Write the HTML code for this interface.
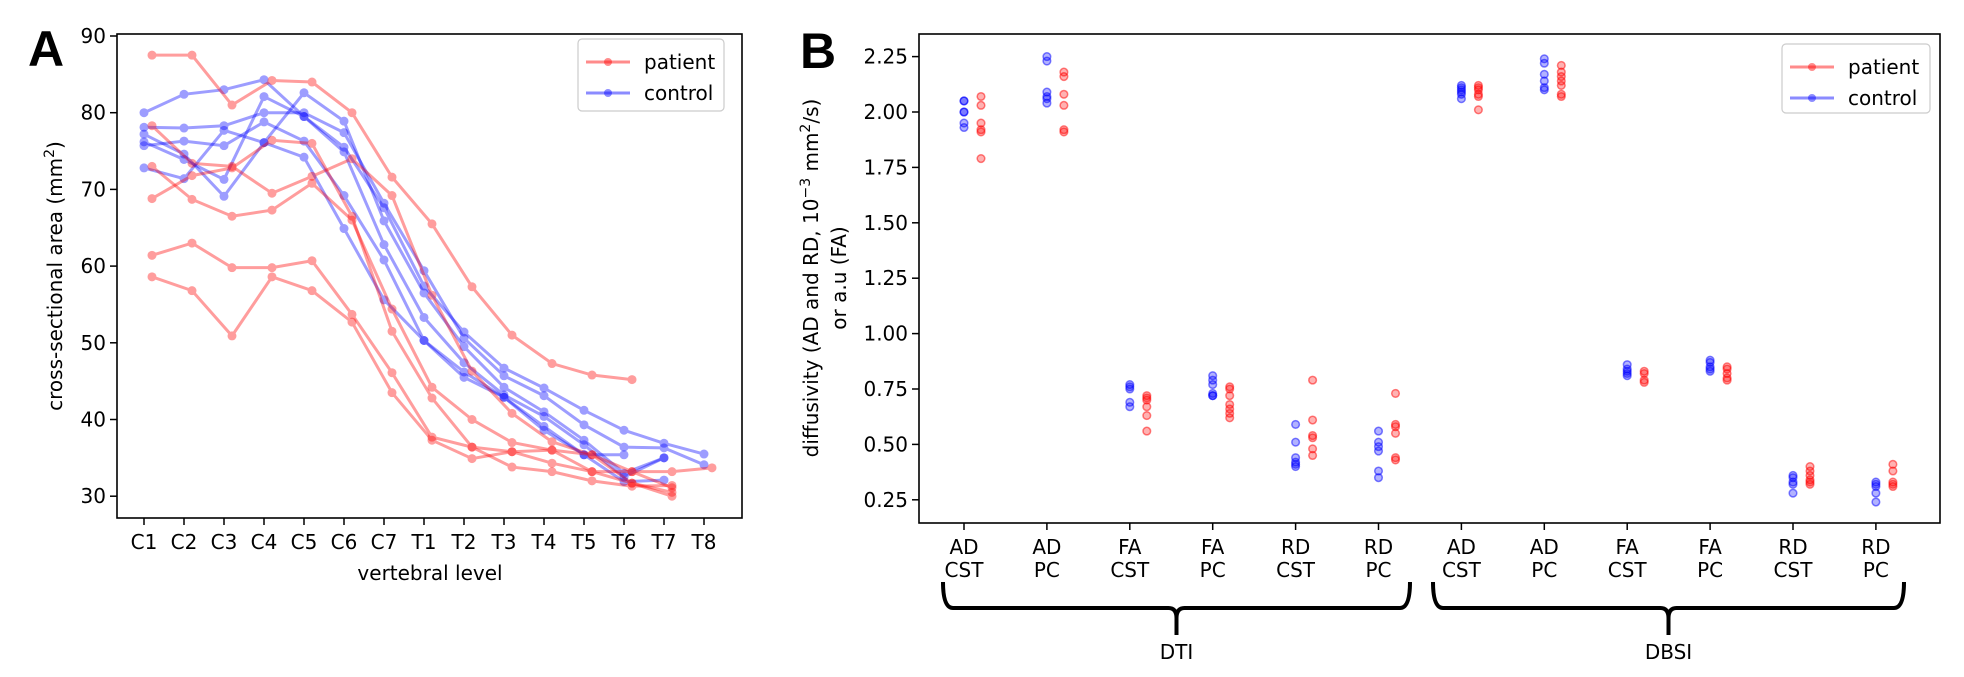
<!DOCTYPE html>
<html><head><meta charset="utf-8"><style>
html,body{margin:0;padding:0;background:#fff;}
svg{display:block;font-family:"DejaVu Sans","Liberation Sans",sans-serif;}
</style></head><body>
<svg id="fig" width="1964" height="677" viewBox="0 0 1964 677" xmlns="http://www.w3.org/2000/svg">
<text x="28" y="66" font-size="50" font-weight="bold" font-family="Liberation Sans, sans-serif">A</text>
<text x="800" y="68" font-size="50" font-weight="bold" font-family="Liberation Sans, sans-serif">B</text>
<g id="pa"></g>
<g id="pb"></g>
</svg>
<script>
// ---------- Panel A data ----------
const levels = ["C1","C2","C3","C4","C5","C6","C7","T1","T2","T3","T4","T5","T6","T7","T8"];
const yTicksA = [30,40,50,60,70,80,90];
const patient1 = [87.5,87.5,81,84.2,84,80,71.6,65.5,57.3,51,47.3,45.8,45.2,null,null];
const patient2 = [78.3,73.4,73,69.5,71.7,74,69.2,56.2,46.3,40.8,37.1,35.4,33.2,31.1,null];
const patient3 = [73,68.7,66.5,67.3,70.8,66,54.4,44.2,40,37,36,33.2,31.7,30.5,null];
const patient4 = [68.8,71.8,72.8,76.4,76,66.5,51.5,42.8,36.4,35.8,34.3,33.2,33.2,33.2,33.7];
const patient5 = [61.4,63,59.8,59.8,60.7,53.7,46.1,37.7,36.4,33.8,33.2,32,31.3,31.4,null];
const patient6 = [58.6,56.8,50.9,58.6,56.8,52.7,43.5,37.3,34.9,35.8,36,35.4,31.7,30,null];
const control1 = [80,82.4,83,84.3,79.5,75.5,67.6,57.4,51.4,46.7,44.1,41.2,38.6,36.9,35.5];
const control2 = [78.1,78,78.3,80,80,77.4,68.2,59.4,50.6,45.7,43.1,39.3,36.4,36.3,34.1];
const control3 = [77.2,74.6,69.1,76.1,82.6,78.9,65.9,56.5,49.5,44.2,41,37.3,33,35,null];
const control4 = [76.2,73.9,71.3,82.1,79.5,74.9,62.8,53.3,47.4,43.2,40.4,36.7,32.5,35,null];
const control5 = [75.7,76.3,75.7,78.8,76.3,69.2,60.8,50.3,46.2,42.9,39.1,35.4,31.9,32.1,null];
const control6 = [72.8,71.4,77.7,76.1,74.2,64.9,55.6,50.3,45.5,42.9,38.6,35.4,35.4,null,null];
const patientsA = [patient1,patient2,patient3,patient4,patient5,patient6];
const controlsA = [control1,control2,control3,control4,control5,control6];

// ---------- Panel B data ----------
const catTop = ["AD","AD","FA","FA","RD","RD","AD","AD","FA","FA","RD","RD"];
const catBot = ["CST","PC","CST","PC","CST","PC","CST","PC","CST","PC","CST","PC"];
const yTicksB = [0.25,0.5,0.75,1.0,1.25,1.5,1.75,2.0,2.25];
const controlB = [
 [2.05,2.05,2.0,2.0,1.95,1.93],
 [2.25,2.23,2.09,2.07,2.06,2.04],
 [0.77,0.76,0.75,0.69,0.67],
 [0.81,0.79,0.77,0.73,0.72,0.72],
 [0.59,0.51,0.44,0.42,0.41,0.40],
 [0.56,0.51,0.49,0.47,0.38,0.35],
 [2.12,2.11,2.10,2.09,2.08,2.06],
 [2.24,2.22,2.17,2.14,2.11,2.10],
 [0.86,0.84,0.83,0.82,0.81],
 [0.88,0.87,0.85,0.84,0.83],
 [0.36,0.35,0.33,0.32,0.28],
 [0.33,0.32,0.31,0.28,0.24]];
const patientB = [
 [2.07,2.03,1.95,1.92,1.91,1.79],
 [2.18,2.16,2.08,2.03,1.92,1.91],
 [0.72,0.71,0.70,0.67,0.63,0.56],
 [0.76,0.75,0.72,0.68,0.66,0.64,0.62],
 [0.79,0.61,0.54,0.53,0.48,0.45],
 [0.73,0.59,0.58,0.55,0.44,0.43],
 [2.12,2.11,2.10,2.08,2.07,2.01],
 [2.21,2.18,2.16,2.14,2.12,2.08,2.07],
 [0.83,0.82,0.79,0.78],
 [0.85,0.84,0.82,0.80,0.79],
 [0.40,0.38,0.36,0.34,0.33,0.32],
 [0.41,0.38,0.33,0.32,0.31]];

const NS="http://www.w3.org/2000/svg";
function mk(parent,tag,attrs){const e=document.createElementNS(NS,tag);for(const k in attrs)e.setAttribute(k,attrs[k]);parent.appendChild(e);return e;}
const RED="#ff0000", BLUE="#0000ff";

// ---------- Panel A ----------
const pa=document.getElementById('pa');
const A={l:117,r:742,t:34,b:518};
const xA=i=>144+i*40;
const yA=v=>36+(90-v)*7.67;
let fr=mk(pa,'rect',{x:A.l,y:A.t,width:A.r-A.l,height:A.b-A.t,fill:'none',stroke:'#000','stroke-width':1.6});


yTicksA.forEach(v=>{
  const y=yA(v);
  const tk=mk(pa,'line',{x1:A.l-7,x2:A.l,y1:y,y2:y,stroke:'#000','stroke-width':1.5});
  
  
  const t=mk(pa,'text',{x:A.l-11,y:y+7,'font-size':20,'text-anchor':'end'});
  t.textContent=v;
  
  
});
levels.forEach((lv,i)=>{
  const x=xA(i);
  const tk=mk(pa,'line',{x1:x,x2:x,y1:A.b,y2:A.b+7,stroke:'#000','stroke-width':1.5});
  
  
  const t=mk(pa,'text',{x:x,y:549,'font-size':20,'text-anchor':'middle'});
  t.textContent=lv;
  
  
});
let xl=mk(pa,'text',{x:430,y:580,'font-size':20,'text-anchor':'middle'});xl.textContent='vertebral level';


let yl=mk(pa,'text',{x:0,y:0,'font-size':20,'text-anchor':'middle',transform:'translate(62,276) rotate(-90)'});
yl.innerHTML='cross-sectional area (mm<tspan dy="-8" font-size="14">2</tspan><tspan dy="8">)</tspan>';


function drawSeries(arr,color,off,name){
  const g=mk(pa,'g',{opacity:0.38});
  
  
  let pts=[];arr.forEach((v,i)=>{if(v!==null)pts.push([xA(i)+off,yA(v)]);});
  mk(g,'polyline',{points:pts.map(p=>p.join(',')).join(' '),fill:'none',stroke:color,'stroke-width':3});
  pts.forEach(p=>mk(g,'circle',{cx:p[0],cy:p[1],r:4.5,fill:color}));
}
controlsA.forEach((s,k)=>drawSeries(s,BLUE,0,'control-line-'+(k+1)));
patientsA.forEach((s,k)=>drawSeries(s,RED,8,'patient-line-'+(k+1)));
function legend(parent,x,y,w,h,name){
  const g=mk(parent,'g',{});
  
  
  mk(g,'rect',{x:x,y:y,width:w,height:h,rx:4,fill:'#fff','fill-opacity':0.85,stroke:'#ccc','stroke-width':1.2});
  [[RED,'patient',y+23],[BLUE,'control',y+54]].forEach(([c,lab,yy])=>{
    const e=mk(g,'g',{});
    
    
    mk(e,'line',{x1:x+8,x2:x+52,y1:yy,y2:yy,stroke:c,'stroke-width':3,opacity:0.45});
    mk(e,'circle',{cx:x+30,cy:yy,r:4,fill:c,opacity:0.45});
    const t=mk(e,'text',{x:x+66,y:yy+7,'font-size':20});t.textContent=lab;
  });
}
legend(pa,578,39,146,72,'legend-a');

// ---------- Panel B ----------
const pb=document.getElementById('pb');
const B={l:919,r:1940,t:34,b:523};
const xB=i=>964+i*82.9;
const yB=v=>112+(2-v)*221.6;
let fb=mk(pb,'rect',{x:B.l,y:B.t,width:B.r-B.l,height:B.b-B.t,fill:'none',stroke:'#000','stroke-width':1.6});


yTicksB.forEach(v=>{
  const y=yB(v);
  const tk=mk(pb,'line',{x1:B.l-7,x2:B.l,y1:y,y2:y,stroke:'#000','stroke-width':1.5});
  
  
  const t=mk(pb,'text',{x:B.l-11,y:y+7,'font-size':20,'text-anchor':'end'});
  t.textContent=v.toFixed(2);
  
  
});
catTop.forEach((c,i)=>{
  const x=xB(i);
  const tk=mk(pb,'line',{x1:x,x2:x,y1:B.b,y2:B.b+7,stroke:'#000','stroke-width':1.5});
  
  
  const t=mk(pb,'text',{x:x,y:554,'font-size':20,'text-anchor':'middle'});
  t.innerHTML=c+'<tspan x="'+x+'" dy="23">'+catBot[i]+'</tspan>';
  
  
});
let yl2=mk(pb,'text',{x:0,y:0,'font-size':20,'text-anchor':'middle',transform:'translate(818,278) rotate(-90)'});
yl2.innerHTML='diffusivity (AD and RD, 10<tspan dy="-8" font-size="14">−3</tspan><tspan dy="8"> mm</tspan><tspan dy="-8" font-size="14">2</tspan><tspan dy="8">/s)</tspan>';


let yl3=mk(pb,'text',{x:0,y:0,'font-size':20,'text-anchor':'middle',transform:'translate(846,278) rotate(-90)'});
yl3.textContent='or a.u (FA)';


function dots(data,color,off,name){
  data.forEach((col,i)=>{
    const g=mk(pb,'g',{});
    
    
    col.forEach(v=>mk(g,'circle',{cx:xB(i)+off,cy:yB(v),r:3.8,fill:color,'fill-opacity':0.3,stroke:color,'stroke-opacity':0.5,'stroke-width':1.5}));
  });
}
dots(controlB,BLUE,0,'control-points');
dots(patientB,RED,17,'patient-points');
legend(pb,1782,44,148,69,'legend-b');
function brace(x1,x2,label,name){
  const g=mk(pb,'g',{});
  
  
  const c=(x1+x2)/2;
  mk(g,'path',{d:`M${x1},582 Q${x1},608 ${x1+10},608 L${c-8},608 Q${c},608 ${c},618 L${c},635 M${c},618 Q${c},608 ${c+8},608 L${x2-10},608 Q${x2},608 ${x2},582`,fill:'none',stroke:'#000','stroke-width':4});
  const t=mk(g,'text',{x:c,y:659,'font-size':20,'text-anchor':'middle'});t.textContent=label;
}
brace(943,1410,'DTI','dti-brace');
brace(1433,1904,'DBSI','dbsi-brace');
</script>
</body></html>
